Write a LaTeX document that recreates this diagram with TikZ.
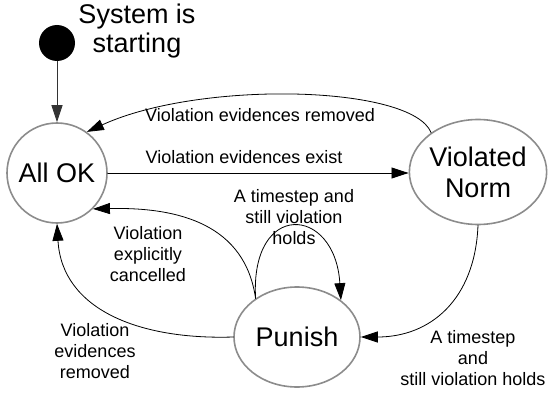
\documentclass[tikz,border=0pt]{standalone}
\usepackage{fontspec}
\setmainfont{Liberation Sans}
\usetikzlibrary{arrows.meta,shapes.geometric}

\tikzset{
  state/.style={draw=gray!90, line width=1.6pt, fill=white, inner sep=0pt,
    align=center, font=\fontsize{27}{31}\selectfont},
  startdot/.style={circle, fill=black, minimum size=36pt, inner sep=0pt},
  bigtxt/.style={align=center, font=\fontsize{27}{29}\selectfont},
  lbl/.style={align=center, inner sep=0pt, font=\fontsize{18}{21}\selectfont},
  conn/.style={line width=0.8pt, -{Triangle[length=17pt,width=11pt]}}
}

\begin{document}
\begin{tikzpicture}[x=1pt, y=-1pt, line cap=round, line join=round]
  % Fix the page to the size of the original
  \useasboundingbox (0,0) rectangle (549,393);

  % States
  \node[startdot] (start) at (57,43) {};
  \node[bigtxt] (title) at (137,31) {System is\\starting};
  \node[state, circle, minimum size=100pt] (ok) at (57,173) {All OK};
  \node[state, ellipse, minimum width=137pt, minimum height=105pt] (viol) at (478,172) {Violated\\Norm};
  \node[state, ellipse, minimum width=126pt, minimum height=100pt] (punish) at (297,337) {Punish};

  % Transitions
  \draw[conn, draw=black!80] (start) -- (ok);
  \draw[conn] (ok.east |- 0,173) -- (viol.west |- 0,173);
  \draw[conn] (viol.140) .. controls (412,85) and (200,80) .. (ok.54);
  \draw[conn] (viol.south) .. controls (475,300) and (430,337) .. (punish.east);
  \draw[conn] (punish.137) .. controls (250,200) and (335,205) .. (punish.40);
  \draw[conn] (punish.137) .. controls (245,225) and (180,207) .. (ok.-45);
  \draw[conn] (punish.west) .. controls (140,340) and (62,310) .. (ok.south);

  % Labels of the transitions
  \node[lbl] (lRemovedTop) at (260,115) {Violation evidences removed};
  \node[lbl] (lExist) at (244,157) {Violation evidences exist};
  \node[lbl] (lLoop) at (294,217) {A timestep and\\still violation\\holds};
  \node[lbl] (lCancel) at (148,254) {Violation\\explicitly\\cancelled};
  \node[lbl] (lRemovedLow) at (95,351) {Violation\\evidences\\removed};
  \node[lbl] (lStep) at (473,358) {A timestep\\and\\still violation holds};
\end{tikzpicture}
\end{document}
